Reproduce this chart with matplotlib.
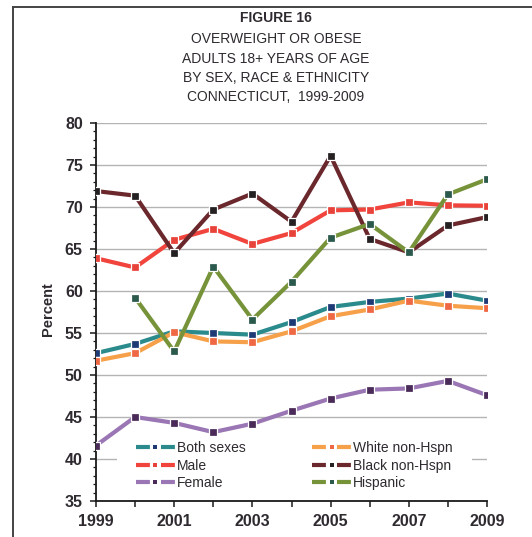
import numpy as np
import matplotlib
matplotlib.use("Agg")
import matplotlib.pyplot as plt
from matplotlib.lines import Line2D
from matplotlib.patches import Rectangle

plt.rcParams['font.family'] = ['Liberation Sans', 'DejaVu Sans']
plt.rcParams['lines.scale_dashes'] = False

# Survey years and percent overweight or obese, by group
years = [1999, 2000, 2001, 2002, 2003, 2004, 2005, 2006, 2007, 2008, 2009]
both_sexes = [52.6, 53.7, 55.2, 55.0, 54.8, 56.3, 58.1, 58.7, 59.1, 59.7, 58.85]
male = [63.9, 62.8, 66.1, 67.4, 65.6, 66.9, 69.6, 69.7, 70.55, 70.2, 70.15]
female = [41.6, 45.0, 44.3, 43.2, 44.2, 45.75, 47.2, 48.25, 48.4, 49.3, 47.6]
white_nh = [51.7, 52.6, 55.1, 54.0, 53.9, 55.2, 57.0, 57.8, 58.85, 58.25, 57.95]
black_nh = [71.9, 71.35, 64.5, 69.7, 71.6, 68.25, 76.1, 66.2, 64.6, 67.8, 68.8]
hispanic = [np.nan, 59.2, 52.8, 62.9, 56.6, 61.1, 66.35, 67.98, 64.6, 71.5, 73.3]

series_names = ["Both sexes", "Male", "Female",
                "White non-Hspn", "Black non-Hspn", "Hispanic"]
series_values = [both_sexes, male, female, white_nh, black_nh, hispanic]
line_colors = ["#2a8a8c", "#f0443c", "#9a76b4", "#f6a049", "#6a272c", "#76933a"]
marker_colors = ["#1e3a74", "#e8433a", "#4a2a58", "#ee6843", "#252122", "#2b594b"]

x_tick_labels = [str(y) if (y - 1999) % 2 == 0 else "" for y in years]
y_ticks = [35, 40, 45, 50, 55, 60, 65, 70, 75, 80]

title_lines = ["FIGURE 16", "OVERWEIGHT OR OBESE", "ADULTS 18+ YEARS OF AGE",
               "BY SEX, RACE & ETHNICITY", "CONNECTICUT,  1999-2009"]

W, H = 532, 537
fig = plt.figure(figsize=(W / 100, H / 100), dpi=100)
fig.patch.set_facecolor("white")

# plot area in pixels: x 96..487, y 123..501
ax = fig.add_axes([96 / W, 1 - 501 / H, (487 - 96) / W, (501 - 123) / H])
ax.set_facecolor("white")
ax.set_axisbelow(True)

text_color = "#2f2a30"

handles = []
for name, vals, lc, mc in zip(series_names, series_values, line_colors, marker_colors):
    ax.plot(years, vals, color=lc, lw=3.0, marker="s", markersize=6.2,
            markerfacecolor=mc, markeredgecolor="white", markeredgewidth=0.9,
            zorder=3, solid_joinstyle="miter")
    handles.append(Line2D([], [], color=lc, lw=3, dashes=(10, 8),
                          marker="s", markersize=3.2, markerfacecolor=mc,
                          markeredgecolor=mc, markeredgewidth=0))

ax.set_xlim(1999, 2009)
ax.set_ylim(35, 80)
ax.set_xticks(years)
ax.set_xticklabels(x_tick_labels)
ax.set_yticks(y_ticks)
ax.set_yticks(np.arange(35, 81, 1), minor=True)

ax.grid(axis="y", which="major", color="#b4b4b4", lw=1.0)
for side in ["top", "right"]:
    ax.spines[side].set_visible(False)
for side in ["left", "bottom"]:
    ax.spines[side].set_color("#1a1a1a")
    ax.spines[side].set_linewidth(1.3)

ax.tick_params(axis="both", which="major", direction="out", length=4.5, width=1.1,
               color="#1a1a1a", labelsize=11.5, labelcolor=text_color)
ax.tick_params(axis="y", which="minor", direction="out", length=2.5, width=0.9,
               color="#1a1a1a")
ax.tick_params(axis="x", which="minor", length=0)
ax.tick_params(axis="y", which="major", pad=5)
ax.tick_params(axis="x", which="major", pad=5)
for lab in ax.get_xticklabels() + ax.get_yticklabels():
    lab.set_fontweight("bold")

# white legend background
ax.add_patch(Rectangle((0.054, 0.013), 0.908, 0.156, transform=ax.transAxes,
                       facecolor="white", edgecolor="none", zorder=1))

leg = fig.legend(handles, series_names, ncol=2, loc="upper left",
                 bbox_to_anchor=(136 / W, 1 - 441 / H), frameon=False,
                 fontsize=10, handlelength=2.8, handletextpad=0.15,
                 columnspacing=4.8, labelspacing=0.26, borderpad=0,
                 borderaxespad=0, numpoints=1)
for t in leg.get_texts():
    t.set_color(text_color)

# title block
title_y = [18, 39, 59, 78, 97]
for i, (line, yp) in enumerate(zip(title_lines, title_y)):
    fig.text(276 / W, 1 - yp / H, line, ha="center", va="center", fontsize=10,
             fontweight="bold" if i == 0 else "normal", color=text_color)

fig.text(48 / W, 1 - 309 / H, "Percent", rotation=90, ha="center", va="center",
         fontsize=10.5, fontweight="bold", color=text_color)

# figure frame (top and left edges)
fig.add_artist(Line2D([13 / W, 13 / W], [0, 1 - 7 / H], transform=fig.transFigure,
                      color="#444444", lw=1.4))
fig.add_artist(Line2D([13 / W, 1], [1 - 7 / H, 1 - 7 / H], transform=fig.transFigure,
                      color="#444444", lw=1.4))

fig.savefig("out.png", dpi=100, facecolor="white")
